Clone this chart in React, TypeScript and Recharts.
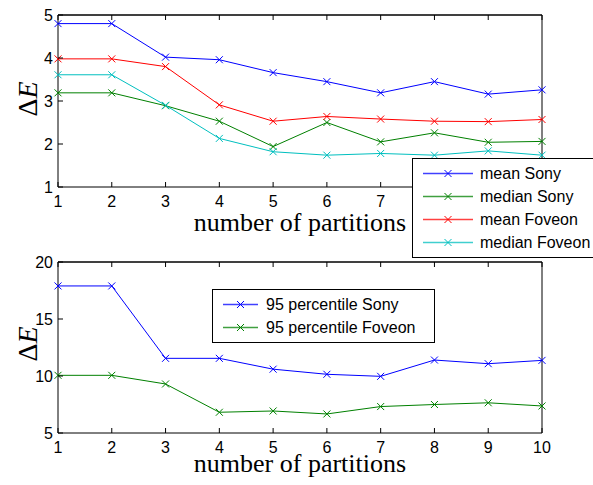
import { LineChart, Line, XAxis, YAxis, Legend, ReferenceLine } from 'recharts'

// values
const partitions = [1, 2, 3, 4, 5, 6, 7, 8, 9, 10]
const meanSony = [4.8, 4.8, 4.02, 3.96, 3.66, 3.45, 3.19, 3.45, 3.16, 3.26]
const medianSony = [3.19, 3.19, 2.89, 2.53, 1.94, 2.5, 2.05, 2.26, 2.04, 2.06]
const meanFoveon = [3.98, 3.98, 3.8, 2.91, 2.53, 2.64, 2.58, 2.53, 2.52, 2.57]
const medianFoveon = [3.61, 3.61, 2.9, 2.13, 1.82, 1.74, 1.78, 1.74, 1.84, 1.74]
const p95Sony = [17.9, 17.9, 11.55, 11.55, 10.6, 10.15, 9.97, 11.4, 11.08, 11.37]
const p95Foveon = [10.06, 10.06, 9.3, 6.82, 6.93, 6.67, 7.32, 7.5, 7.65, 7.37]

const topTicksY = [1, 2, 3, 4, 5]
const bottomTicksY = [5, 10, 15, 20]
const topNames = ['mean Sony', 'median Sony', 'mean Foveon', 'median Foveon']
const bottomNames = ['95 percentile Sony', '95 percentile Foveon']

const topData = partitions.map((n, i) => ({
  n,
  meanSony: meanSony[i],
  medianSony: medianSony[i],
  meanFoveon: meanFoveon[i],
  medianFoveon: medianFoveon[i],
}))
const bottomData = partitions.map((n, i) => ({ n, p95Sony: p95Sony[i], p95Foveon: p95Foveon[i] }))

const BLUE = '#0000ff'
const GREEN = '#008000'
const RED = '#ff0000'
const CYAN = '#00bfbf'
const SANS = '"Liberation Sans", Arial, Helvetica, sans-serif'
const SERIF = '"Liberation Serif", "Times New Roman", serif'
const TICK = 5
const PLOT_W = 484

const Cross = ({ cx, cy, color }: any) => (
  <g>
    <line x1={cx - 3.5} y1={cy - 3.5} x2={cx + 3.5} y2={cy + 3.5} stroke={color} strokeWidth={1} />
    <line x1={cx - 3.5} y1={cy + 3.5} x2={cx + 3.5} y2={cy - 3.5} stroke={color} strokeWidth={1} />
  </g>
)

const crossDot = (color: string) => (p: any) => <Cross key={p.index} cx={p.cx} cy={p.cy} color={color} />

// inward tick marks on all four sides (matlab box), labels only bottom/left.
// bottom ticks also draw their mirror on the top edge, plotH px above
const bottomTick = (plotH: number) => ({ x, y, payload }: any) => (
  <g>
    <line x1={x} y1={y} x2={x} y2={y - TICK} stroke="#000" />
    <line x1={x} y1={y - plotH} x2={x} y2={y - plotH + TICK} stroke="#000" />
    <text x={x} y={y + 20} textAnchor="middle" fontFamily={SANS} fontSize={16} fill="#000">
      {payload.value}
    </text>
  </g>
)
// the left tick at the top value also draws the top edge of the box
const leftTick = (top: number) => ({ x, y, payload }: any) => (
  <g>
    <line x1={x} y1={y} x2={x + TICK} y2={y} stroke="#000" />
    {payload.value === top && <rect x={x} y={y - 0.5} width={PLOT_W} height={1} fill="#000" />}
    <text x={x - 5} y={y} dy="0.36em" textAnchor="end" fontFamily={SANS} fontSize={16} fill="#000">
      {payload.value}
    </text>
  </g>
)
const rightTick = ({ x, y }: any) => <line x1={x} y1={y} x2={x - TICK} y2={y} stroke="#000" />

const makeLegend = (names: string[], sampleLen: number, textX: number) => (props: any) => {
  const items = (props.payload || [])
    .filter((a: any) => names.includes(a.value))
    .sort((a: any, b: any) => names.indexOf(a.value) - names.indexOf(b.value))
  return (
    <div style={{ border: '1px solid #000', background: '#fff', padding: '3px 0', boxSizing: 'border-box' }}>
      {items.map((it: any) => (
        <div key={it.value} style={{ position: 'relative', height: 23 }}>
          <svg width={sampleLen + 12} height={23} style={{ position: 'absolute', left: 10, top: 0 }}>
            <line x1={0} y1={11.5} x2={sampleLen} y2={11.5} stroke={it.color} strokeWidth={1.5} strokeOpacity={0.75} />
            <Cross cx={sampleLen / 2} cy={11.5} color={it.color} />
          </svg>
          <span
            style={{
              position: 'absolute',
              left: textX,
              top: 0,
              lineHeight: '23px',
              fontFamily: SANS,
              fontSize: 16,
              color: '#000',
              whiteSpace: 'nowrap',
            }}
          >
            {it.value}
          </span>
        </div>
      ))}
    </div>
  )
}

const DeltaE = ({ cx, cy }: { cx: number; cy: number }) => (
  <text
    transform={`translate(${cx},${cy}) rotate(-90)`}
    textAnchor="middle"
    dy="0.35em"
    fontFamily={SERIF}
    fontSize={28}
    fill="#000"
  >
    Δ<tspan fontStyle="italic">E</tspan>
  </text>
)

const XTitle = ({ y }: { y: number }) => (
  <text x={300} y={y} textAnchor="middle" fontFamily={SERIF} fontSize={26} fill="#000">
    number of partitions
  </text>
)

function axes(yDomain: number[], yTicks: number[], xHeight: number, plotH: number) {
  return [
    <XAxis key="b" xAxisId="b" dataKey="n" type="number" domain={[1, 10]} ticks={partitions} height={xHeight}
      tickSize={0} tickMargin={0} tickLine={false} axisLine={{ stroke: '#000' }} tick={bottomTick(plotH)} interval={0} />,
    <YAxis key="l" yAxisId="l" type="number" domain={yDomain} ticks={yTicks} width={58}
      tickSize={0} tickMargin={0} tickLine={false} axisLine={{ stroke: '#000' }} tick={leftTick(yDomain[1])} interval={0} />,
    <YAxis key="r" yAxisId="r" orientation="right" type="number" domain={yDomain} ticks={yTicks} width={51}
      tickSize={0} tickMargin={0} tickLine={false} axisLine={{ stroke: '#000' }} tick={rightTick} interval={0} />,
    // top edge of the box
    <ReferenceLine key="top" xAxisId="b" yAxisId="l" y={yDomain[1]} stroke="#000" strokeWidth={1} ifOverflow="visible" />,
  ]
}

export default function App() {
  return (
    <div style={{ position: 'absolute', left: 0, top: 0, width: 593, height: 485, background: '#fff' }}>
      <LineChart width={593} height={240} data={topData} margin={{ top: 15, right: 0, bottom: 0, left: 0 }}>
        {axes([1, 5], topTicksY, 53, 172)}
        <Line xAxisId="b" yAxisId="l" type="linear" dataKey="meanSony" name="mean Sony" stroke={BLUE} strokeWidth={1} dot={crossDot(BLUE)} isAnimationActive={false} />
        <Line xAxisId="b" yAxisId="l" type="linear" dataKey="medianSony" name="median Sony" stroke={GREEN} strokeWidth={1} dot={crossDot(GREEN)} isAnimationActive={false} />
        <Line xAxisId="b" yAxisId="l" type="linear" dataKey="meanFoveon" name="mean Foveon" stroke={RED} strokeWidth={1} dot={crossDot(RED)} isAnimationActive={false} />
        <Line xAxisId="b" yAxisId="l" type="linear" dataKey="medianFoveon" name="median Foveon" stroke={CYAN} strokeWidth={1} dot={crossDot(CYAN)} isAnimationActive={false} />
        <Legend layout="horizontal" verticalAlign="middle" align="center" content={makeLegend(topNames, 50, 67)}
          wrapperStyle={{ left: 412, top: 158, width: 186, zIndex: 5 }} />
        <DeltaE cx={27} cy={99} />
        <XTitle y={231} />
      </LineChart>
      <LineChart width={593} height={245} data={bottomData} margin={{ top: 22, right: 0, bottom: 0, left: 0 }}>
        {axes([5, 20], bottomTicksY, 52, 171)}
        <Line xAxisId="b" yAxisId="l" type="linear" dataKey="p95Sony" name="95 percentile Sony" stroke={BLUE} strokeWidth={1} dot={crossDot(BLUE)} isAnimationActive={false} />
        <Line xAxisId="b" yAxisId="l" type="linear" dataKey="p95Foveon" name="95 percentile Foveon" stroke={GREEN} strokeWidth={1} dot={crossDot(GREEN)} isAnimationActive={false} />
        <Legend layout="horizontal" verticalAlign="middle" align="center" content={makeLegend(bottomNames, 35, 53)}
          wrapperStyle={{ left: 212, top: 49, width: 223, zIndex: 5 }} />
        <DeltaE cx={27} cy={104} />
        <XTitle y={232} />
      </LineChart>
    </div>
  )
}
